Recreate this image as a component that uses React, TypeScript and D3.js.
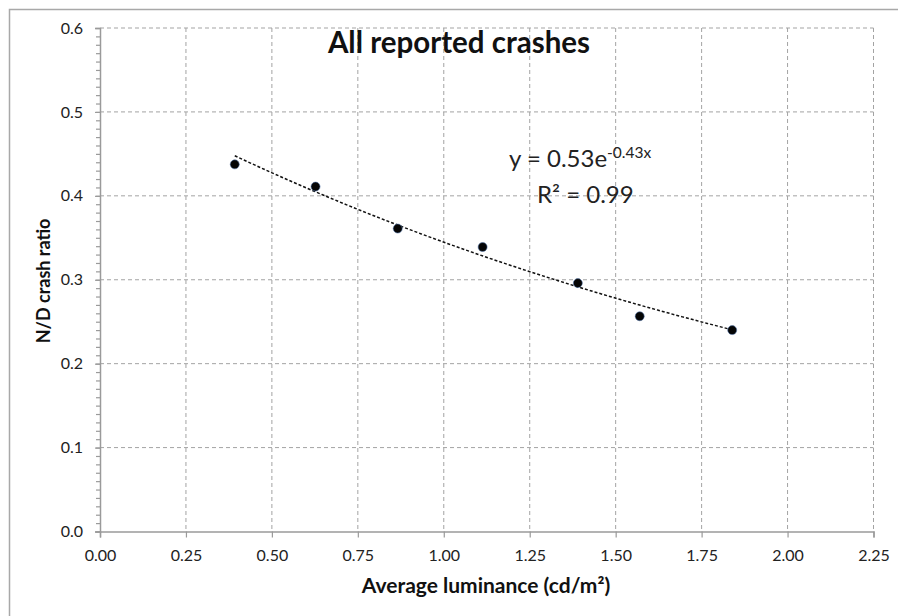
import * as d3 from "d3";
import { useEffect, useRef } from "react";

// measured points
const luminance = [0.392, 0.627, 0.866, 1.113, 1.39, 1.57, 1.839];
const crashRatio = [0.4375, 0.411, 0.361, 0.339, 0.296, 0.2565, 0.24];

// trendline y = a * e^(b x), coefficients as printed on the chart
const fitA = 0.53;
const fitB = -0.43;
const fitR2 = 0.99;

const xTicks = [0, 0.25, 0.5, 0.75, 1, 1.25, 1.5, 1.75, 2, 2.25];
const yTicks = [0, 0.1, 0.2, 0.3, 0.4, 0.5, 0.6];

function ScatterFc(container: HTMLElement) {
  const width = 898;
  const height = 616;
  const left = 100;
  const right = 873.5;
  const top = 28;
  const bottom = 531.5;
  const font = "Lato, 'Open Sans', sans-serif";
  const gridColor = "#a3a3a3";
  const axisColor = "#9a9a9a";

  const svg = d3.select(container)
    .append("svg")
    .attr("width", width)
    .attr("height", height)
    .attr("viewBox", [0, 0, width, height])
    .style("position", "absolute")
    .style("left", "0px")
    .style("top", "0px")
    .style("background", "#fff");

  // chart area frame (right/bottom edges fall outside the picture)
  svg.append("rect")
    .attr("x", 9.5).attr("y", 9.5)
    .attr("width", 1000).attr("height", 1000)
    .attr("fill", "none")
    .attr("stroke", "#a8a8a8")
    .attr("stroke-width", 1.5);

  const x = d3.scaleLinear([0, 2.25], [left, right]);
  const y = d3.scaleLinear([0, 0.6], [bottom, top]);

  // grid
  const grid = svg.append("g")
    .attr("stroke", gridColor)
    .attr("stroke-width", 1)
    .attr("stroke-dasharray", "4,3");
  grid.selectAll("line.h")
    .data(yTicks.filter(d => d > 0))
    .join("line")
    .attr("x1", left).attr("x2", right)
    .attr("y1", d => y(d)).attr("y2", d => y(d));
  grid.selectAll("line.v")
    .data(xTicks.filter(d => d > 0))
    .join("line")
    .attr("x1", d => x(d)).attr("x2", d => x(d))
    .attr("y1", top).attr("y2", bottom);

  // axes
  const xAxis = svg.append("g")
    .attr("transform", `translate(0,${bottom})`)
    .call(d3.axisBottom(x).tickValues(xTicks).tickFormat(d3.format(".2f")).tickSize(6).tickPadding(12));
  const yMinor = svg.append("g")
    .attr("transform", `translate(${left},0)`)
    .call(d3.axisLeft(y).tickValues(d3.range(0, 61).map(i => i / 100)).tickFormat(() => "").tickSize(4));
  const yAxis = svg.append("g")
    .attr("transform", `translate(${left},0)`)
    .call(d3.axisLeft(y).tickValues(yTicks).tickFormat(d3.format(".1f")).tickSize(5).tickPadding(12));

  [xAxis, yAxis, yMinor].forEach(g => {
    g.select(".domain").attr("stroke", axisColor).attr("stroke-width", 1.5);
    g.selectAll(".tick line").attr("stroke", axisColor).attr("stroke-width", 1.2);
    g.selectAll("text")
      .attr("font-family", font)
      .attr("font-size", 16)
      .attr("fill", "#222");
  });
  yMinor.select(".domain").remove();

  // trendline
  const [x0, x1] = d3.extent(luminance) as [number, number];
  const fitXs = d3.range(0, 41).map(i => x0 + (x1 - x0) * i / 40);
  svg.append("path")
    .datum(fitXs)
    .attr("fill", "none")
    .attr("stroke", "#111")
    .attr("stroke-width", 1.5)
    .attr("stroke-dasharray", "3,2")
    .attr("d", d3.line<number>()
      .x(d => x(d))
      .y(d => y(fitA * Math.exp(fitB * d))));

  // points
  svg.append("g")
    .selectAll("circle")
    .data(luminance)
    .join("circle")
    .attr("cx", d => x(d))
    .attr("cy", (_, i) => y(crashRatio[i]))
    .attr("r", 4.5)
    .attr("fill", "#050505")
    .attr("stroke", "#4a6fa5")
    .attr("stroke-opacity", 0.55)
    .attr("stroke-width", 1);

  // title
  svg.append("text")
    .attr("x", 459).attr("y", 53)
    .attr("text-anchor", "middle")
    .attr("font-family", font)
    .attr("font-weight", "bold")
    .attr("font-size", 29.5)
    .attr("fill", "#111")
    .text("All reported crashes");

  // equation
  const eq = svg.append("text")
    .attr("x", 509).attr("y", 167)
    .attr("font-family", font)
    .attr("font-size", 24)
    .attr("fill", "#222");
  eq.append("tspan").text(`y = ${fitA}e`);
  eq.append("tspan")
    .attr("font-size", 15.5)
    .attr("dy", -9)
    .text(`${fitB}x`);

  svg.append("text")
    .attr("x", 537).attr("y", 203)
    .attr("font-family", font)
    .attr("font-size", 24)
    .attr("fill", "#222")
    .text(`R² = ${fitR2.toFixed(2)}`);

  // axis titles
  svg.append("text")
    .attr("x", 486).attr("y", 593)
    .attr("text-anchor", "middle")
    .attr("font-family", font)
    .attr("font-weight", "bold")
    .attr("font-size", 21)
    .attr("fill", "#111")
    .text("Average luminance (cd/m²)");

  svg.append("text")
    .attr("transform", `translate(50,281) rotate(-90)`)
    .attr("text-anchor", "middle")
    .attr("font-family", font)
    .attr("font-weight", "bold")
    .attr("font-size", 18)
    .attr("fill", "#111")
    .text("N/D crash ratio");
}

export default function App() {
  const domRef = useRef<HTMLDivElement>(null);
  useEffect(() => {
    if (domRef.current) {
      ScatterFc(domRef.current);
    }
    return () => {
      if (domRef.current) {
        d3.select(domRef.current).selectAll("svg").remove();
      }
    };
  }, [domRef]);
  return <div ref={domRef}></div>;
}
